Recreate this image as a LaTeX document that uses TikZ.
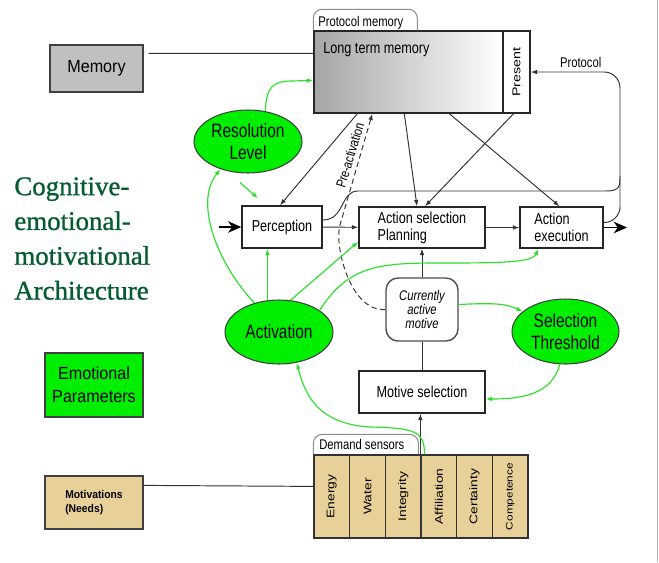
\documentclass[tikz,border=0pt]{standalone}
\usepackage{fontspec}
\setmainfont{Liberation Sans}
\newfontfamily\dgsans[FakeStretch=0.8]{Liberation Sans}
\newfontfamily\upsans[FakeStretch=1.25]{Liberation Sans}
\newfontfamily\slidesans[FakeStretch=0.92]{Liberation Sans}
\newfontfamily\titleserif[FakeBold=1]{Liberation Serif}
\usetikzlibrary{arrows.meta,positioning,shapes.geometric}
\definecolor{emogreen}{RGB}{0,238,0}
\definecolor{linegreen}{RGB}{40,225,40}
\definecolor{needtan}{RGB}{232,209,152}
\definecolor{titlegreen}{RGB}{5,92,50}
\definecolor{memgray}{RGB}{192,192,192}

\begin{document}
\begin{tikzpicture}[x=0.02cm, y=-0.02cm, >={Latex[length=3.6pt,width=2.6pt]}]
	\tikzstyle{slide_b}=[draw=black!75, line width=0.7pt, rectangle, inner sep=0pt, align=center, font=\slidesans\fontsize{10}{13}\selectfont]
	\tikzstyle{box_b}=[draw=black!85, line width=0.8pt, rectangle, inner sep=0pt, align=left, font=\dgsans\fontsize{9}{9.6}\selectfont]
	\tikzstyle{sens_b}=[draw=black!80, line width=0.7pt, rectangle, fill=needtan, inner sep=0pt, minimum width=0.713cm, minimum height=1.66cm]
	\tikzstyle{ell_g}=[draw=black!75, line width=0.6pt, ellipse, fill=emogreen, inner sep=0pt, align=center, font=\dgsans\fontsize{11}{12.5}\selectfont]
	\tikzstyle{tab_t}=[draw=black!45, line width=0.6pt, rounded corners=5pt]
	\tikzstyle{small_t}=[inner sep=0pt, font=\dgsans\fontsize{8}{9}\selectfont]
	\tikzstyle{line_k}=[draw=black!80, line width=0.55pt, ->]
	\tikzstyle{line_g}=[draw=linegreen, line width=0.65pt, ->]
	\tikzstyle{big_k}=[draw=black, line width=1pt, -{Stealth[length=7.5pt,width=6.5pt,inset=2.2pt]}]

	\useasboundingbox (0,0) rectangle (659,562);
	\draw[black!30, line width=0.5pt] (657,0) -- (657,562);

	% left column
	\node[slide_b, fill=memgray, minimum width=1.86cm, minimum height=0.94cm] (mem) at (96.5,68.5) {Memory};
	\node[anchor=north west, inner sep=0pt, align=left, text=titlegreen, font=\titleserif\fontsize{15.3}{19.8}\selectfont] (title) at (14,177) {Cognitive-\\emotional-\\motivational\\Architecture};
	\node[slide_b, fill=emogreen, minimum width=1.96cm, minimum height=1.28cm] (emo) at (94,385) {Emotional\\Parameters};
	\node[slide_b, fill=needtan, align=left, minimum width=1.96cm, minimum height=1.06cm, font=\slidesans\bfseries\fontsize{6.4}{8}\selectfont] (motiv) at (94,502.5) {Motivations\\(Needs)};

	% memory
	\node[box_b, left color=gray!70, right color=white, minimum width=3.78cm, minimum height=1.64cm] (ltm) at (408.5,72) {};
	\node[anchor=base west, inner sep=0pt, font=\dgsans\fontsize{9}{10}\selectfont] (ltmtxt) at (323,53) {Long term memory};
	\node[box_b, fill=white, minimum width=0.54cm, minimum height=1.64cm, font=\upsans\fontsize{6.5}{7}\selectfont] (present) at (516.5,72) {\rotatebox{90}{Present}};
	\node[small_t, anchor=base west] (ptab) at (318,26) {Protocol memory};
	\draw[tab_t] (ltm.north west) -- ++(0,-21) -- ++(104,0) -- ++(0,21);

	% processing
	\node[box_b, minimum width=1.6cm, minimum height=0.84cm] (perc) at (282,227) {Perception};
	\node[box_b, minimum width=2.52cm, minimum height=0.82cm] (asel) at (422,227.5) {Action selection\\Planning};
	\node[box_b, minimum width=1.66cm, minimum height=0.82cm] (aexec) at (561.5,227.5) {Action\\execution};
	\node[box_b, draw=black!70, rounded corners=0.24cm, align=center, minimum width=1.44cm, minimum height=1.26cm, font=\dgsans\itshape\fontsize{8}{8}\selectfont] (cam) at (422,309.5) {Currently\\active\\motive};
	\node[box_b, minimum width=2.52cm, minimum height=0.84cm] (msel) at (422,392) {Motive selection};

	% emotional parameters
	\node[ell_g, minimum width=2.16cm, minimum height=1.26cm] (resl) at (248,141.5) {Resolution\\Level};
	\node[ell_g, minimum width=2.16cm, minimum height=1.28cm] (actv) at (279,332) {Activation};
	\node[ell_g, minimum width=2.14cm, minimum height=1.3cm] (selt) at (565.5,331.5) {Selection\\Threshold};

	% demand sensors
	\foreach \i/\t/\fs in {1/Energy/6.3, 2/Water/6.3, 3/Integrity/6.3, 4/Affiliation/6.3, 5/Certainty/6.3, 6/Competence/5.4}
		\node[sens_b, font=\upsans\fontsize{\fs}{7}\selectfont] (s\i) at ({314+35.67*(\i-0.5)},496.5) {\rotatebox{90}{\t}};
	\node[small_t, anchor=base west] (dtab) at (319,449) {Demand sensors};
	\draw[tab_t] (s1.north west) -- ++(0,-20) -- ++(105,0) -- ++(0,20);

	\coordinate (inp) at (219,227);
	\coordinate (outp) at (627,227.5);
	\coordinate (pcorner) at (620,72);
	\coordinate (pjoin) at (620,176);

	% plain links
	\draw[line_k, -] ([shift={(5,9)}]mem.north east) -- ([shift={(0,23)}]ltm.north west);
	\draw[line_k, -] ([shift={(0,10)}]motiv.north east) -- ([shift={(0,32)}]s1.north west);

	% main flow
	\draw[big_k] (inp) -- (perc);
	\draw[line_k] (perc) -- (asel);
	\draw[line_k] (asel) -- (aexec);
	\draw[big_k] (aexec.east) -- (outp);
	\draw[line_k, rounded corners=9pt] ([shift={(0,-5)}]aexec.east) -| (pcorner) -- (present.east) node[pos=0.44, above=2pt, small_t] {Protocol};
	\draw[line_k, -] ([shift={(0,-7)}]perc.east) .. controls (345,220) and (340,191) .. (358,191) -- (606,191) .. controls (620,191) and (620,186) .. (pjoin);

	% from memory
	\draw[line_k] ([shift={(44,0)}]ltm.south west) -- ([shift={(-2,0)}]perc.north);
	\draw[line_k] ([shift={(91,0)}]ltm.south west) -- ([shift={(-5,0)}]asel.north);
	\draw[line_k] ([shift={(136,0)}]ltm.south west) -- ([shift={(-2,0)}]aexec.north);
	\draw[line_k] ([shift={(-3,0)}]present.south) -- ([shift={(3,0)}]asel.north);
	\draw[line_k, dash pattern=on 3pt off 2pt] (cam.west) .. controls (350,312) and (334,245) .. (340,225) -- ([shift={(59,0)}]ltm.south west) node[pos=0.6, rotate=73, anchor=south, inner sep=2.5pt, font=\dgsans\fontsize{7.8}{8}\selectfont] {Pre-activation};

	% motive chain
	\draw[line_k] (cam) -- (asel);
	\draw[line_k, -] (msel) -- (cam);
	\draw[line_k] (s4.north west) -- (s4.north west |- msel.south);

	% modulation
	\draw[line_g] (resl.60) .. controls (266,88) and (272,81) .. (292,81) -- ([shift={(0,50)}]ltm.north west);
	\draw[line_g] ([shift={(-8,9)}]resl.south) -- ([shift={(-24,-7)}]perc.north);
	\draw[line_g] (actv.130) .. controls (222,270) and (192,205) .. (resl.225);
	\draw[line_g] (actv.110) -- (actv.110 |- perc.south);
	\draw[line_g] (actv.70) -- ([shift={(0,-7)}]asel.south west);
	\draw[line_g] (actv.28) .. controls (350,262) and (385,263) .. (450,263) .. controls (515,263) and (533,261) .. ([shift={(-23,0)}]aexec.south);
	\draw[line_g] ([shift={(0,-5)}]cam.east) .. controls (490,303) and (505,303) .. (selt.155);
	\draw[line_g] (selt.260) .. controls (552,395) and (520,399) .. ([shift={(0,7)}]msel.east);
	\draw[line_g] ([shift={(4,0)}]s4.north west) .. controls (425,430) and (412,428) .. (370,427) .. controls (318,424) and (305,395) .. (actv.300);
\end{tikzpicture}
\end{document}
